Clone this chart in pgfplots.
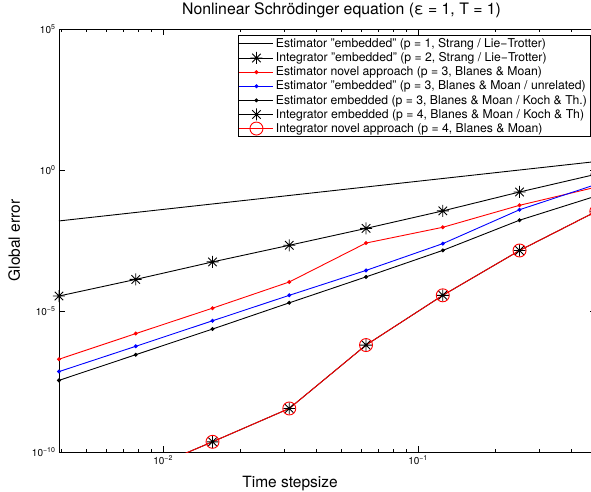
\documentclass[border=0pt]{standalone}
\usepackage{pgfplots}
\pgfplotsset{compat=1.18}
\usepackage{fontspec}
\setmainfont{TeX Gyre Heros}
% MATLAB-like eight-armed asterisk
\pgfdeclareplotmark{mstar}{%
  \pgfpathmoveto{\pgfqpoint{-\pgfplotmarksize}{0pt}}\pgfpathlineto{\pgfqpoint{\pgfplotmarksize}{0pt}}%
  \pgfpathmoveto{\pgfqpoint{0pt}{-\pgfplotmarksize}}\pgfpathlineto{\pgfqpoint{0pt}{\pgfplotmarksize}}%
  \pgfpathmoveto{\pgfqpoint{-.7071\pgfplotmarksize}{-.7071\pgfplotmarksize}}\pgfpathlineto{\pgfqpoint{.7071\pgfplotmarksize}{.7071\pgfplotmarksize}}%
  \pgfpathmoveto{\pgfqpoint{-.7071\pgfplotmarksize}{.7071\pgfplotmarksize}}\pgfpathlineto{\pgfqpoint{.7071\pgfplotmarksize}{-.7071\pgfplotmarksize}}%
  \pgfusepathqstroke}
\begin{document}
\begin{tikzpicture}
\useasboundingbox (-59pt,-39pt) rectangle (532pt,452pt);
\begin{axis}[
    at={(0,0)}, anchor=south west,
    scale only axis,
    width=537.3pt, height=423pt,
    xmode=log, ymode=log,
    xmin=0.00390625, xmax=0.5,
    ymin=1e-10, ymax=1e5,
    clip=true,
    title={Nonlinear Schrödinger equation (ε = 1, T = 1)},
    title style={at={(axis description cs:0.526,1)}, anchor=base, yshift=9pt,
        font=\fontsize{15.8}{18}\selectfont},
    xlabel={Time stepsize},
    ylabel={Global error},
    label style={font=\fontsize{15.5}{17}\selectfont},
    xlabel style={at={(axis description cs:0.43,0)}, anchor=base, yshift=-35pt},
    ylabel style={at={(axis description cs:-0.0726,0.5)}, anchor=base},
    xtick={0.01,0.1},
    xticklabels={10\textsuperscript{−2},10\textsuperscript{−1}},
    minor xtick={0.004,0.005,0.006,0.007,0.008,0.009,0.02,0.03,0.04,0.05,0.06,0.07,0.08,0.09,0.2,0.3,0.4},
    ytick={1e-10,1e-5,1,1e5},
    yticklabels={10\textsuperscript{−10},10\textsuperscript{−5},10\textsuperscript{0},10\textsuperscript{5}},
    minor ytick={},
    tick label style={font=\fontsize{10}{12}\selectfont},
    major tick length=6pt, minor tick length=3pt,
    axis line style={line width=0.9pt},
    every tick/.style={black, line width=0.6pt},
    legend style={at={(1,1)}, anchor=north east, xshift=-6pt, yshift=-6pt,
        font=\fontsize{12.2}{13}\selectfont, draw=black, line width=0.7pt,
        inner sep=1pt, row sep=-0.3pt},
    legend cell align=left,
    legend image code/.code={\draw[mark repeat=2,mark phase=2,#1]
        plot coordinates {(0pt,0pt)(17pt,0pt)(34pt,0pt)};},
    every axis plot/.append style={line width=0.9pt},
]
% Estimator "embedded" p=1
\addplot[black, no marks] coordinates {
(0.00390625,0.015625)(0.0078125,0.03125)(0.015625,0.0625)(0.03125,0.125)
(0.0625,0.25)(0.125,0.5)(0.25,1)(0.5,2)};
\addlegendentry{Estimator "embedded" (p = 1, Strang / Lie−Trotter)}
% Integrator "embedded" p=2
\addplot[black, mark=mstar, mark size=6pt] coordinates {
(0.00390625,3.4e-5)(0.0078125,1.32e-4)(0.015625,5.5e-4)(0.03125,2.14e-3)
(0.0625,8.5e-3)(0.125,3.55e-2)(0.25,0.166)(0.5,0.71)};
\addlegendentry{Integrator "embedded" (p = 2, Strang / Lie−Trotter)}
% Estimator novel approach p=3
\addplot[red, mark=*, mark size=1.5pt] coordinates {
(0.00390625,1.95e-7)(0.0078125,1.58e-6)(0.015625,1.26e-5)(0.03125,1.07e-4)
(0.0625,2.57e-3)(0.125,9.3e-3)(0.25,5.6e-2)(0.5,0.248)};
\addlegendentry{Estimator novel approach (p = 3, Blanes \& Moan)}
% Estimator "embedded" p=3 unrelated
\addplot[blue, mark=*, mark size=1.5pt] coordinates {
(0.00390625,7.1e-8)(0.0078125,5.6e-7)(0.015625,4.5e-6)(0.03125,3.6e-5)
(0.0625,2.75e-4)(0.125,2.45e-3)(0.25,3.9e-2)(0.5,0.31)};
\addlegendentry{Estimator "embedded" (p = 3, Blanes \& Moan / unrelated)}
% Estimator embedded p=3 Koch
\addplot[black, mark=*, mark size=1.5pt] coordinates {
(0.00390625,3.47e-8)(0.0078125,2.82e-7)(0.015625,2.29e-6)(0.03125,1.95e-5)
(0.0625,1.62e-4)(0.125,1.41e-3)(0.25,1.66e-2)(0.5,0.12)};
\addlegendentry{Estimator embedded (p = 3, Blanes \& Moan / Koch \& Th.)}
% Integrator embedded p=4
\addplot[black, mark=mstar, mark size=6pt] coordinates {
(0.00390625,1e-12)(0.0078125,1.6e-11)(0.015625,2.3e-10)(0.03125,3.5e-9)
(0.0625,6.2e-7)(0.125,3.6e-5)(0.25,1.4e-3)(0.5,3.4e-2)};
\addlegendentry{Integrator embedded (p = 4, Blanes \& Moan / Koch \& Th)}
% Integrator novel approach p=4
\addplot[red, mark=o, mark size=6.5pt] coordinates {
(0.00390625,1e-12)(0.0078125,1.6e-11)(0.015625,2.3e-10)(0.03125,3.5e-9)
(0.0625,6.2e-7)(0.125,3.6e-5)(0.25,1.4e-3)(0.5,3.4e-2)};
\addlegendentry{Integrator novel approach (p = 4, Blanes \& Moan)}
\end{axis}
\end{tikzpicture}
\end{document}
